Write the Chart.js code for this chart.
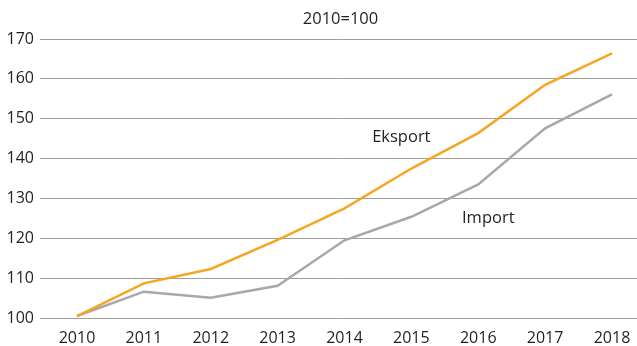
<!DOCTYPE html>
<html>
<head>
<meta charset="utf-8">
<script src="https://cdn.jsdelivr.net/npm/chart.js@4"></script>
<style>
  html, body { margin: 0; padding: 0; background: #ffffff; }
  #wrap { position: relative; width: 637px; height: 346px; }
</style>
</head>
<body>
<div id="wrap"><canvas id="c"></canvas></div>
<script>
// Index of exports and imports, 2010 = 100
const years = [2010, 2011, 2012, 2013, 2014, 2015, 2016, 2017, 2018];
const eksport = [100.5, 108.7, 112.3, 119.6, 127.5, 137.5, 146.4, 158.5, 166.4];
const importVals = [100.5, 106.6, 105.1, 108.1, 119.5, 125.4, 133.5, 147.6, 156.1];
const yTicks = [100, 110, 120, 130, 140, 150, 160, 170];
const baseLabel = '2010=100';

const FONT = "'Open Sans', 'Noto Sans', sans-serif";
const TEXT = '#231f20';

// Series names drawn next to their lines, placed in data coordinates
const seriesLabels = [
  { text: 'Eksport', x: 2014.85, y: 145.4 },
  { text: 'Import', x: 2016.15, y: 125.1 }
];

const annotate = {
  id: 'annotate',
  afterDatasetsDraw(chart) {
    const { ctx, chartArea, scales } = chart;
    ctx.save();
    ctx.fillStyle = TEXT;
    ctx.textAlign = 'center';
    ctx.textBaseline = 'middle';
    ctx.font = '16.5px ' + FONT;
    seriesLabels.forEach(l => {
      ctx.fillText(l.text, scales.x.getPixelForValue(l.x), scales.y.getPixelForValue(l.y));
    });
    ctx.font = '16.5px ' + FONT;
    ctx.fillText(baseLabel, (chartArea.left + chartArea.right) / 2 + 2, 19);
    ctx.restore();
  }
};

new Chart(document.getElementById('c'), {
  type: 'line',
  data: {
    datasets: [
      {
        label: 'Eksport',
        data: years.map((y, i) => ({ x: y, y: eksport[i] })),
        borderColor: '#f6a623',
        borderWidth: 2.5,
        pointRadius: 0,
        tension: 0,
        order: 1
      },
      {
        label: 'Import',
        data: years.map((y, i) => ({ x: y, y: importVals[i] })),
        borderColor: '#a8a8a8',
        borderWidth: 2.5,
        pointRadius: 0,
        tension: 0,
        order: 2
      }
    ]
  },
  options: {
    responsive: true,
    maintainAspectRatio: false,
    animation: false,
    devicePixelRatio: 1,
    layout: { padding: { top: 39, right: 0, bottom: 0, left: 0 } },
    plugins: { legend: { display: false }, tooltip: { enabled: false }, title: { display: false } },
    scales: {
      x: {
        type: 'linear',
        min: 2009.447,
        max: 2018.374,
        afterBuildTicks(scale) { scale.ticks = years.map(v => ({ value: v })); },
        afterFit(scale) {
          scale.height = 28;
          scale.paddingLeft = 0;
          scale.paddingRight = 0;
        },
        grid: { display: false, drawTicks: false },
        border: { display: false },
        ticks: {
          color: TEXT,
          font: { family: FONT, size: 16 },
          padding: 11,
          maxRotation: 0,
          autoSkip: false,
          callback: v => String(v)
        }
      },
      y: {
        min: 100,
        max: 170,
        afterBuildTicks(scale) { scale.ticks = yTicks.map(v => ({ value: v })); },
        afterFit(scale) {
          scale.width = 40;
          scale.paddingTop = 0;
          scale.paddingBottom = 0;
        },
        grid: { color: '#9d9d9d', lineWidth: 1, drawTicks: false },
        border: { display: false },
        ticks: {
          color: TEXT,
          font: { family: FONT, size: 16 },
          padding: 6
        }
      }
    }
  },
  plugins: [annotate]
});
</script>
</body>
</html>
